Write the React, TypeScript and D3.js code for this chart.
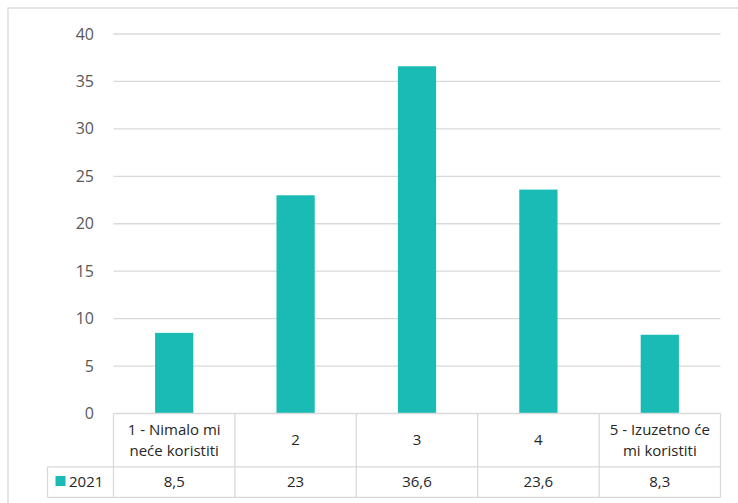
import React from "react";
import * as d3 from "d3";

const categories = ["1 - Nimalo mi\nneće koristiti", "2", "3", "4", "5 - Izuzetno će\nmi koristiti"];
const values2021 = [8.5, 23, 36.6, 23.6, 8.3];
const valueLabels = ["8,5", "23", "36,6", "23,6", "8,3"];
const seriesName = "2021";
const yTicks = [0, 5, 10, 15, 20, 25, 30, 35, 40];

const W = 738;
const H = 503;
const plotLeft = 113.5;
const plotRight = 720.5;
const plotTop = 34;
const plotBottom = 413.5;
const row1Bottom = 466.8;
const row2Bottom = 497.3;
const legendLeft = 47.5;
const teal = "#1ABBB4";
const grid = "#D9D9D9";
const font = "'Open Sans', 'Liberation Sans', sans-serif";

export default function App() {
  const x = d3.scaleBand<string>().domain(categories).range([plotLeft, plotRight]).paddingInner(0).paddingOuter(0);
  const y = d3.scaleLinear().domain([0, 40]).range([plotBottom, plotTop]);
  const bw = x.bandwidth() * 0.315;
  const edges = categories.map((c) => x(c) as number).concat([plotRight]);

  return (
    <svg width={W} height={H} style={{ position: "absolute", left: 0, top: 0 }}>
      <rect x={0} y={0} width={W} height={H} fill="#fff" />
      <rect x={8} y={8} width={W + 20} height={H + 20} fill="none" stroke={grid} strokeWidth={1.3} />
      {yTicks.map((t) => (
        <g key={t}>
          {t > 0 && (
            <line x1={plotLeft} x2={plotRight} y1={y(t)} y2={y(t)} stroke={grid} strokeWidth={1.3} />
          )}
          <text x={94} y={y(t)} dy="0.35em" textAnchor="end" fontSize={16} fill="#595959" fontFamily={font}>
            {t}
          </text>
        </g>
      ))}
      {categories.map((c, i) => {
        const cx = (x(c) as number) + x.bandwidth() / 2;
        return (
          <rect key={c} x={cx - bw / 2} y={y(values2021[i])} width={bw} height={y(0) - y(values2021[i])} fill={teal} />
        );
      })}
      <g stroke={grid} strokeWidth={1.3}>
        <line x1={plotLeft} x2={plotRight} y1={plotBottom} y2={plotBottom} />
        <line x1={legendLeft} x2={plotRight} y1={row1Bottom} y2={row1Bottom} />
        <line x1={legendLeft} x2={plotRight} y1={row2Bottom} y2={row2Bottom} />
        <line x1={legendLeft} x2={legendLeft} y1={row1Bottom} y2={row2Bottom} />
        {edges.map((e, i) => (
          <line key={i} x1={e} x2={e} y1={plotBottom} y2={row2Bottom} />
        ))}
      </g>
      {categories.map((c, i) => {
        const cx = (x(c) as number) + x.bandwidth() / 2;
        const lines = c.split("\n");
        const midY = (plotBottom + row1Bottom) / 2;
        const lh = 21.5;
        return (
          <g key={c}>
            {lines.map((l, j) => (
              <text
                key={j}
                x={cx}
                y={midY + (j - (lines.length - 1) / 2) * lh}
                dy="0.35em"
                textAnchor="middle"
                fontSize={15}
                fill="#262626"
                fontFamily={font}
              >
                {l}
              </text>
            ))}
            <text
              x={cx}
              y={(row1Bottom + row2Bottom) / 2}
              dy="0.35em"
              textAnchor="middle"
              fontSize={15}
              fill="#262626"
              fontFamily={font}
            >
              {valueLabels[i]}
            </text>
          </g>
        );
      })}
      <rect x={55.5} y={476} width={10} height={10} fill={teal} />
      <text x={69} y={(row1Bottom + row2Bottom) / 2} dy="0.35em" fontSize={15} fill="#262626" fontFamily={font}>
        {seriesName}
      </text>
    </svg>
  );
}
